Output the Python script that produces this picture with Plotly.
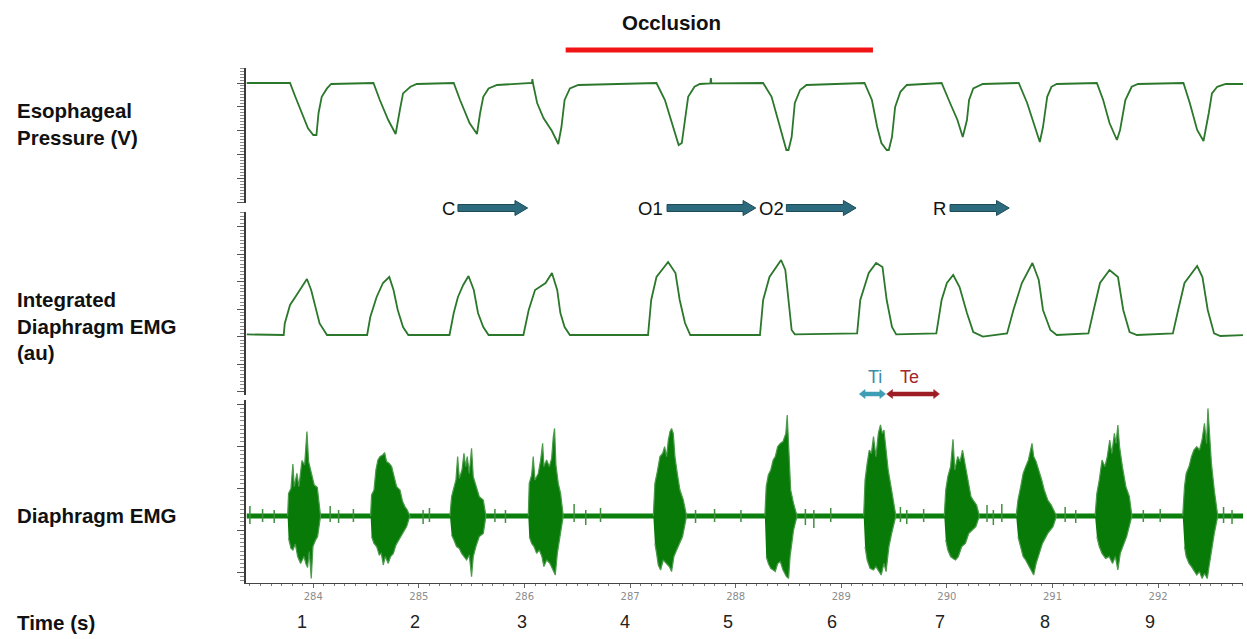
import plotly.graph_objects as go

# ---------------- data (time in s, values in arbitrary units) ----------------
pressure_t = [283.37, 283.78, 283.83, 283.89, 283.95, 284.00, 284.03, 284.05, 284.08, 284.13, 284.17,
              284.57, 284.63, 284.71, 284.78, 284.82, 284.85, 284.92, 284.98,
              285.33, 285.39, 285.48, 285.55, 285.58, 285.61, 285.66, 285.74,
              286.07, 286.075, 286.08, 286.12, 286.18, 286.26, 286.32, 286.35, 286.38, 286.43, 286.51,
              287.25, 287.33, 287.41, 287.46, 287.49, 287.52, 287.55, 287.61, 287.66, 287.76, 287.765, 287.77,
              288.26, 288.34, 288.40, 288.45, 288.48, 288.50, 288.53, 288.56, 288.61, 288.67,
              289.22, 289.29, 289.34, 289.38, 289.43, 289.45, 289.48, 289.51, 289.56, 289.62,
              289.95, 290.03, 290.10, 290.15, 290.19, 290.21, 290.25, 290.34,
              290.68, 290.76, 290.83, 290.88, 290.91, 290.95, 290.99, 291.04,
              291.42, 291.48, 291.54, 291.61, 291.64, 291.69, 291.75, 291.81,
              292.24, 292.30, 292.37, 292.43, 292.48, 292.51, 292.56, 292.64, 292.81]
pressure_v = [0, 0, -0.69, -1.52, -2.27, -2.6, -2.6, -1.5, -0.69, -0.27, -0.05,
              0, -0.85, -1.85, -2.55, -1.35, -0.52, -0.19, -0.05,
              0, -0.85, -2.0, -2.55, -1.5, -0.69, -0.27, -0.1,
              0, 0.2, 0, -1.0, -1.75, -2.4, -3.05, -2.2, -0.85, -0.27, -0.1,
              0, -0.85, -2.2, -3.1, -3.0, -1.85, -0.69, -0.19, -0.05, -0.02, 0.25, -0.02,
              0, -0.69, -1.85, -2.9, -3.35, -3.35, -2.7, -1.0, -0.35, -0.1,
              0, -0.85, -2.2, -3.0, -3.35, -3.35, -2.7, -1.2, -0.44, -0.1,
              0, -1.0, -1.85, -2.7, -1.85, -0.85, -0.27, -0.05,
              0, -1.0, -2.2, -2.95, -2.2, -0.69, -0.19, -0.05,
              0, -0.85, -2.0, -2.85, -2.35, -0.85, -0.19, -0.05,
              0, -1.0, -2.35, -2.9, -1.5, -0.52, -0.19, -0.05, -0.05]

iemg_t = [283.37, 283.72, 283.73, 283.78, 283.83, 283.87, 283.94, 283.98, 284.02, 284.06, 284.13,
          284.51, 284.54, 284.60, 284.66, 284.72, 284.76, 284.80, 284.85, 284.90,
          285.29, 285.33, 285.37, 285.42, 285.47, 285.52, 285.56, 285.61, 285.66,
          285.99, 286.04, 286.10, 286.20, 286.26, 286.31, 286.34, 286.38, 286.43,
          287.17, 287.20, 287.25, 287.36, 287.43, 287.47, 287.52, 287.57,
          288.23, 288.26, 288.32, 288.43, 288.47, 288.50, 288.53, 288.56,
          289.15, 289.18, 289.26, 289.33, 289.39, 289.43, 289.48, 289.52,
          289.90, 289.95, 290.00, 290.06, 290.12, 290.19, 290.25, 290.34,
          290.57, 290.63, 290.71, 290.81, 290.87, 290.91, 290.98, 291.04,
          291.34, 291.39, 291.45, 291.54, 291.62, 291.67, 291.73, 291.80,
          292.14, 292.19, 292.25, 292.37, 292.42, 292.47, 292.53, 292.59, 292.81]
iemg_v = [0.03, 0, 0.58, 1.5, 1.9, 2.25, 2.8, 2.25, 1.4, 0.58, 0,
          0, 0.9, 1.9, 2.6, 2.9, 2.25, 1.25, 0.4, 0,
          0, 1.1, 1.9, 2.5, 2.95, 2.25, 1.1, 0.4, 0,
          0, 1.25, 2.25, 2.6, 3.1, 2.25, 1.1, 0.4, 0,
          0, 1.75, 2.9, 3.65, 3.1, 1.75, 0.6, 0,
          0, 1.75, 2.9, 3.75, 3.25, 1.75, 0.25, 0.03,
          0.08, 1.75, 3.1, 3.6, 3.4, 1.75, 0.4, 0.03,
          0.08, 1.75, 2.6, 3.0, 2.4, 1.1, 0.15, -0.08,
          0.08, 1.25, 2.6, 3.6, 2.75, 1.25, 0.25, 0,
          0.08, 1.25, 2.6, 3.25, 2.9, 1.25, 0.15, 0,
          0.08, 1.25, 2.6, 3.45, 2.9, 1.25, 0.08, -0.05, 0]

# raw diaphragm EMG: upper / lower envelope of each burst
emg_up_t = [
    [283.757, 283.766, 283.789, 283.807, 283.820, 283.845, 283.864, 283.893, 283.918, 283.940, 283.956, 283.981, 284.009, 284.038, 284.054, 284.069],
    [284.543, 284.552, 284.575, 284.593, 284.612, 284.631, 284.657, 284.676, 284.694, 284.720, 284.742, 284.764, 284.789, 284.821, 284.846, 284.868, 284.890, 284.915],
    [285.294, 285.310, 285.326, 285.351, 285.367, 285.383, 285.408, 285.427, 285.443, 285.458, 285.477, 285.499, 285.515, 285.540, 285.572, 285.610, 285.635],
    [286.036, 286.045, 286.068, 286.083, 286.099, 286.131, 286.153, 286.172, 286.184, 286.210, 286.235, 286.257, 286.273, 286.285, 286.298, 286.320, 286.342, 286.367],
    [287.220, 287.235, 287.258, 287.283, 287.308, 287.327, 287.346, 287.362, 287.378, 287.393, 287.409, 287.425, 287.447, 287.472, 287.504, 287.535],
    [288.276, 288.289, 288.309, 288.332, 288.355, 288.375, 288.398, 288.422, 288.448, 288.475, 288.488, 288.501, 288.521, 288.548, 288.581],
    [289.212, 289.225, 289.245, 289.265, 289.285, 289.305, 289.328, 289.351, 289.371, 289.388, 289.404, 289.424, 289.444, 289.471, 289.494, 289.517],
    [289.975, 289.989, 290.009, 290.035, 290.058, 290.075, 290.102, 290.125, 290.148, 290.175, 290.201, 290.228, 290.248, 290.281, 290.308],
    [290.656, 290.673, 290.699, 290.722, 290.746, 290.772, 290.806, 290.822, 290.845, 290.872, 290.898, 290.922, 290.955, 290.988, 291.038],
    [291.403, 291.420, 291.443, 291.469, 291.496, 291.519, 291.542, 291.562, 291.586, 291.602, 291.619, 291.635, 291.662, 291.695, 291.728, 291.752],
    [292.233, 292.250, 292.266, 292.293, 292.316, 292.339, 292.366, 292.392, 292.416, 292.439, 292.459, 292.472, 292.489, 292.505, 292.532, 292.565],
]
emg_up_v = [
    [0, 1.13, 1.38, 2.6, 1.47, 2.13, 1.47, 2.77, 2.55, 4.22, 2.72, 2.13, 1.55, 1.43, 0.8, 0],
    [0, 1.05, 1.3, 2.3, 2.8, 2.97, 3.05, 3.17, 2.72, 2.63, 2.47, 1.97, 1.47, 1.3, 0.72, 0.47, 0.3, 0],
    [0, 0.97, 1.3, 1.8, 2.97, 1.88, 2.3, 3.13, 2.47, 2.97, 2.13, 3.38, 1.97, 1.47, 0.97, 0.8, 0],
    [0, 1.63, 2.05, 2.97, 1.8, 2.13, 2.8, 3.63, 2.47, 2.8, 2.47, 2.88, 3.97, 4.38, 2.55, 1.63, 1.13, 0],
    [0, 1.63, 2.22, 2.97, 3.13, 3.47, 2.97, 3.8, 4.22, 4.38, 4.13, 2.97, 2.13, 1.3, 0.8, 0],
    [0, 1.47, 2.05, 2.3, 2.8, 2.97, 3.47, 3.63, 3.72, 4.13, 5.05, 3.8, 1.3, 0.63, 0],
    [0, 1.8, 2.63, 3.3, 3.13, 3.97, 2.97, 4.13, 4.55, 4.13, 4.3, 3.3, 2.3, 1.47, 0.8, 0],
    [0, 1.3, 1.97, 2.47, 3.83, 2.3, 2.97, 2.72, 3.3, 2.47, 1.8, 0.97, 0.8, 0.55, 0],
    [0, 0.8, 1.47, 2.13, 2.47, 2.8, 3.63, 2.97, 2.72, 2.3, 1.8, 1.3, 0.8, 0.55, 0],
    [0, 1.13, 1.8, 2.8, 2.47, 2.97, 3.8, 3.13, 4.13, 3.63, 4.55, 3.47, 2.47, 1.47, 0.97, 0],
    [0, 1.47, 2.13, 2.47, 2.97, 3.3, 3.47, 3.3, 3.8, 4.63, 3.63, 5.38, 3.97, 2.63, 1.3, 0],
]
emg_lo_t = [
    [283.766, 283.789, 283.807, 283.830, 283.852, 283.880, 283.912, 283.931, 283.946, 283.962, 283.981, 283.997, 284.022, 284.041],
    [284.552, 284.575, 284.600, 284.625, 284.644, 284.663, 284.682, 284.710, 284.732, 284.758, 284.783, 284.814, 284.846, 284.884],
    [285.310, 285.332, 285.357, 285.383, 285.405, 285.427, 285.452, 285.477, 285.499, 285.515, 285.540, 285.572, 285.610],
    [286.045, 286.068, 286.090, 286.115, 286.140, 286.165, 286.184, 286.210, 286.241, 286.273, 286.292, 286.311, 286.336],
    [287.235, 287.251, 287.267, 287.289, 287.314, 287.346, 287.371, 287.393, 287.415, 287.441, 287.466, 287.497],
    [288.289, 288.309, 288.332, 288.355, 288.375, 288.398, 288.422, 288.448, 288.481, 288.501, 288.515, 288.548],
    [289.225, 289.245, 289.272, 289.305, 289.328, 289.351, 289.378, 289.404, 289.424, 289.451, 289.477],
    [289.989, 290.009, 290.035, 290.058, 290.082, 290.108, 290.141, 290.175, 290.208, 290.241, 290.274],
    [290.673, 290.699, 290.722, 290.746, 290.772, 290.799, 290.822, 290.845, 290.872, 290.905, 290.955, 291.005],
    [291.420, 291.443, 291.469, 291.503, 291.536, 291.569, 291.595, 291.619, 291.642, 291.669, 291.702],
    [292.250, 292.266, 292.293, 292.316, 292.339, 292.366, 292.392, 292.416, 292.439, 292.466, 292.482, 292.505, 292.532],
]
emg_lo_v = [
    [-1.12, -1.62, -1.7, -1.4, -2.03, -2.37, -2.03, -2.4, -2.57, -1.78, -3.12, -1.53, -1.2, -1.03],
    [-1.03, -1.37, -1.53, -1.95, -1.87, -2.45, -2.03, -2.37, -2.03, -1.87, -1.45, -1.2, -0.87, -0.53],
    [-0.95, -1.2, -1.53, -1.62, -1.87, -2.03, -2.2, -1.95, -3.03, -2.03, -1.53, -1.03, -0.87],
    [-1.03, -1.37, -1.53, -1.87, -1.7, -2.03, -2.53, -2.2, -2.37, -2.7, -2.95, -1.87, -1.03],
    [-1.37, -1.87, -2.45, -2.7, -2.2, -2.37, -2.53, -2.78, -2.03, -1.7, -1.37, -1.03],
    [-2.03, -2.37, -2.62, -2.7, -2.78, -2.37, -2.28, -2.7, -3.03, -3.12, -2.03, -0.7],
    [-1.53, -2.2, -2.62, -2.7, -2.53, -2.7, -2.95, -2.37, -2.78, -1.53, -0.87],
    [-1.2, -1.7, -2.03, -2.12, -2.2, -2.03, -1.53, -1.37, -0.87, -0.7, -0.53],
    [-1.03, -1.53, -2.03, -2.2, -2.45, -2.7, -2.95, -2.37, -1.87, -1.37, -0.87, -0.53],
    [-1.03, -1.53, -1.87, -2.12, -2.03, -2.37, -2.03, -2.7, -1.87, -1.53, -1.03],
    [-1.53, -2.03, -2.37, -2.53, -2.7, -2.95, -2.78, -3.12, -2.87, -3.12, -2.53, -1.7, -0.87],
]
# baseline noise between bursts
emg_base_t = [283.37, 292.81]
emg_base_v = [0, 0]
noise_t = [283.40, 283.52, 283.63, 284.16, 284.24, 284.38, 285.04, 285.10, 285.72, 285.82, 286.47,
           286.58, 286.72, 287.62, 287.80, 288.05, 288.66, 288.74, 288.90, 289.56, 289.62, 289.78,
           290.38, 290.44, 290.52, 291.12, 291.22, 291.86, 292.02, 292.62, 292.70]
noise_hi = [0.5, 0.35, 0.3, 0.5, 0.3, 0.35, 0.3, 0.4, 0.35, 0.3, 0.6, 0.3, 0.4, 0.3, 0.35, 0.3,
            0.35, 0.3, 0.4, 0.45, 0.3, 0.35, 0.55, 0.3, 0.6, 0.45, 0.3, 0.3, 0.35, 0.45, 0.3]
noise_lo = [-0.4, -0.3, -0.35, -0.3, -0.35, -0.3, -0.4, -0.3, -0.3, -0.35, -0.3, -0.45, -0.3, -0.35,
            -0.3, -0.3, -0.45, -0.6, -0.3, -0.3, -0.4, -0.3, -0.3, -0.45, -0.3, -0.3, -0.35, -0.3,
            -0.3, -0.35, -0.4]

# annotations
row_titles = ["Esophageal<br>Pressure (V)", "Integrated<br>Diaphragm EMG<br>(au)", "Diaphragm EMG", "Time (s)"]
time_labels = ["1", "2", "3", "4", "5", "6", "7", "8", "9"]
time_label_x = [283.89, 284.96, 285.98, 286.95, 287.93, 288.91, 289.93, 290.93, 291.92]
phase_labels = ["C", "O1", "O2", "R"]
phase_label_x = [285.28, 287.19, 288.34, 289.93]
phase_arrow_start = [285.37, 287.35, 288.48, 290.03]
phase_arrow_end = [286.03, 288.19, 289.14, 290.59]
occlusion_start, occlusion_end = 286.39, 289.30
occlusion_label_x = 287.39
ti_start, ti_end = 289.17, 289.42
te_start, te_end = 289.43, 289.93

# ---------------- figure ----------------
W, H = 1247, 639
FONT = "Liberation Sans, Arial, sans-serif"
LINE_GREEN = "#2b772b"
EMG_GREEN = "#0b7f0b"

fig = go.Figure()
fig.add_trace(go.Scatter(x=pressure_t, y=pressure_v, mode="lines", xaxis="x", yaxis="y",
                         line=dict(color=LINE_GREEN, width=1.8), hoverinfo="skip"))
fig.add_trace(go.Scatter(x=iemg_t, y=iemg_v, mode="lines", xaxis="x", yaxis="y2",
                         line=dict(color=LINE_GREEN, width=1.8), hoverinfo="skip"))
fig.add_trace(go.Scatter(x=emg_base_t, y=emg_base_v, mode="lines", xaxis="x", yaxis="y3",
                         line=dict(color=EMG_GREEN, width=5), hoverinfo="skip"))
nx, ny = [], []
for t, hi, lo in zip(noise_t, noise_hi, noise_lo):
    nx += [t, t, None]
    ny += [lo, hi, None]
fig.add_trace(go.Scatter(x=nx, y=ny, mode="lines", xaxis="x", yaxis="y3",
                         line=dict(color="#3f8f3f", width=1.5), hoverinfo="skip"))
for ut, uv, lt, lv in zip(emg_up_t, emg_up_v, emg_lo_t, emg_lo_v):
    fig.add_trace(go.Scatter(x=ut + lt[::-1], y=uv + lv[::-1], mode="lines", fill="toself",
                             xaxis="x", yaxis="y3", fillcolor="#087a08",
                             line=dict(color="#4a9a4a", width=1.2), hoverinfo="skip"))

X0, X1 = 246, 1243


def py(p):
    return 1 - p / H


def yaxis(p_top, p_bot, rng, tick0, dtick, minor_dtick):
    return dict(domain=[py(p_bot), py(p_top)], range=rng, anchor="x",
                showline=True, linecolor="#3a3a3a", linewidth=1.5,
                ticks="outside", ticklen=7, tickwidth=1, tickcolor="#555",
                tick0=tick0, dtick=dtick, showticklabels=False,
                showgrid=False, zeroline=False, fixedrange=True,
                minor=dict(ticks="outside", ticklen=4, tickwidth=1, tickcolor="#8a8a8a",
                           tick0=tick0, dtick=minor_dtick, showgrid=False))


layout = dict(
    width=W, height=H, margin=dict(l=0, r=0, t=0, b=0),
    paper_bgcolor="white", plot_bgcolor="white", showlegend=False,
    font=dict(family=FONT, color="#111"),
    xaxis=dict(domain=[X0 / W, X1 / W], range=[283.363, 292.804], anchor="y3",
               showline=True, linecolor="#444", linewidth=1.2,
               ticks="outside", ticklen=4, tickcolor="#666", tick0=284, dtick=1,
               tickfont=dict(family="DejaVu Sans, sans-serif", size=10, color="#8c8c8c"),
               showgrid=False, zeroline=False, fixedrange=True,
               minor=dict(ticks="outside", ticklen=2, tickcolor="#777", dtick=0.1, showgrid=False)),
    yaxis=yaxis(68, 203, [-6.0, 0.75], 0, 1.19, 1.19 / 8),
    yaxis2=yaxis(212, 395, [-3.0, 6.15], -0.08, 1.375, 1.375 / 8),
    yaxis3=yaxis(400, 583, [-3.35, 5.8], -0.7, 2.1, 0.21),
)
fig.update_layout(**layout)

ann = []
row_y = [124, 326, 515, 622]
for txt, yy in zip(row_titles, row_y):
    ann.append(dict(text="<b>" + txt + "</b>", x=15 / W, y=py(yy), xref="paper", yref="paper",
                    xanchor="left", yanchor="middle", align="left", showarrow=False,
                    font=dict(size=20.5, family=FONT, color="#111")))
for lab, xx in zip(time_labels, time_label_x):
    ann.append(dict(text=lab, x=xx, y=py(622), xref="x", yref="paper", xanchor="center",
                    yanchor="middle", showarrow=False, font=dict(size=18, family=FONT, color="#222")))
ann.append(dict(text="<b>Occlusion</b>", x=occlusion_label_x, y=py(22),
                xref="x", yref="paper", xanchor="center", yanchor="middle", showarrow=False,
                font=dict(size=20.5, family=FONT, color="#111")))
for lab, xx in zip(phase_labels, phase_label_x):
    ann.append(dict(text=lab, x=xx, y=py(208), xref="x", yref="paper", xanchor="center",
                    yanchor="middle", showarrow=False, font=dict(size=18.5, family=FONT, color="#111")))
ann.append(dict(text="Ti", x=(ti_start + ti_end) / 2 + 0.02, y=py(377), xref="x", yref="paper",
                xanchor="center", yanchor="middle", showarrow=False,
                font=dict(size=18, family=FONT, color="#3a8ca6")))
ann.append(dict(text="Te", x=(te_start + te_end) / 2 - 0.03, y=py(377), xref="x", yref="paper",
                xanchor="center", yanchor="middle", showarrow=False,
                font=dict(size=18, family=FONT, color="#a3262c")))
fig.update_layout(annotations=ann)


def arrow_path(x0, x1, yc, sh, hh, hl, double=False):
    if double:
        pts = [(x0, yc), (x0 + hl, yc + hh), (x0 + hl, yc + sh), (x1 - hl, yc + sh), (x1 - hl, yc + hh),
               (x1, yc), (x1 - hl, yc - hh), (x1 - hl, yc - sh), (x0 + hl, yc - sh), (x0 + hl, yc - hh)]
    else:
        pts = [(x0, yc - sh), (x1 - hl, yc - sh), (x1 - hl, yc - hh), (x1, yc),
               (x1 - hl, yc + hh), (x1 - hl, yc + sh), (x0, yc + sh)]
    return "M " + " L ".join(f"{a},{b}" for a, b in pts) + " Z"


shapes = [dict(type="line", xref="x", yref="paper", x0=occlusion_start, x1=occlusion_end,
               y0=py(50), y1=py(50), line=dict(color="#f01414", width=5))]
for s, e in zip(phase_arrow_start, phase_arrow_end):
    shapes.append(dict(type="path", xref="x", yref="paper",
                       path=arrow_path(s, e, py(208), 3.5 / H, 7.5 / H, 0.12),
                       fillcolor="#2b6b7d", line=dict(color="#1c4a57", width=1)))
shapes.append(dict(type="path", xref="x", yref="paper",
                   path=arrow_path(ti_start, ti_end, py(394), 2 / H, 4.5 / H, 0.055, True),
                   fillcolor="#3c9db5", line=dict(color="#3c9db5", width=0.5)))
shapes.append(dict(type="path", xref="x", yref="paper",
                   path=arrow_path(te_start, te_end, py(394), 2 / H, 4.5 / H, 0.055, True),
                   fillcolor="#9e1d24", line=dict(color="#9e1d24", width=0.5)))
fig.update_layout(shapes=shapes)

fig.write_html("out.html", config={"displayModeBar": False})
